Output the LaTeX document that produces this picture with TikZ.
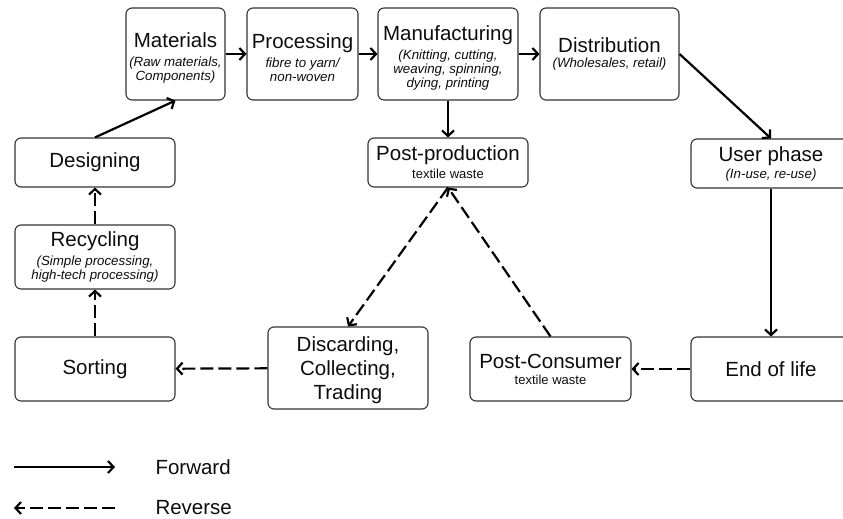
\documentclass[tikz,border=0pt]{standalone}
\usepackage{fontspec}
\setmainfont{Liberation Sans}
\usetikzlibrary{arrows.meta}
\newcommand{\subtxt}{\fontsize{13.3}{14}\selectfont\itshape}
\newcommand{\wastetxt}{\fontsize{13}{14}\selectfont}
\newcommand{\tstrut}{\rule{0pt}{23pt}}

\begin{document}
\begin{tikzpicture}[x=1pt,y=-1pt,
  box/.style={draw=black!80, line width=1.1pt, rounded corners=6pt, align=center,
    inner sep=0pt, text=black!95, font=\fontsize{20.5}{14}\selectfont},
  fwd/.style={line width=2.2pt, -{Straight Barb[length=5.5pt,width=12pt]}},
  rev/.style={fwd, dash pattern=on 13pt off 5pt}]
\useasboundingbox (0,0) rectangle (843,519);
\node[box, minimum width=99, minimum height=92] (mat) at (175.5,54) {\tstrut Materials\\[5pt]{\subtxt (Raw materials,}\\{\subtxt Components)}};
\node[box, minimum width=111, minimum height=92] (pro) at (302.5,54) {\tstrut Processing\\[5pt]{\subtxt fibre to yarn/}\\{\subtxt non-woven}};
\node[box, minimum width=140, minimum height=92] (man) at (448,54) {\tstrut Manufacturing\\[5pt]{\subtxt (Knitting, cutting,}\\{\subtxt weaving, spinning,}\\{\subtxt dying, printing}};
\node[box, minimum width=139, minimum height=92] (dis) at (609.5,54) {Distribution\\[1pt]{\subtxt (Wholesales, retail)}};
\node[box, minimum width=160, minimum height=49] (des) at (95,162.5) {Designing};
\node[box, minimum width=160, minimum height=64] (rec) at (95,257) {Recycling\\[5pt]{\subtxt (Simple processing,}\\{\subtxt high-tech processing)}};
\node[box, minimum width=160, minimum height=64] (sor) at (95,369) {Sorting};
\node[box, minimum width=160, minimum height=49] (pp) at (448,162.5) {Post-production\\[4pt]{\wastetxt textile waste}};
\node[box, minimum width=160, minimum height=49] (usr) at (771,163.5) {User phase\\[3pt]{\subtxt (In-use, re-use)}};
\node[box, minimum width=160, minimum height=82, font=\fontsize{20.5}{24}\selectfont] (dcl) at (348,368) {\rule{0pt}{19pt}Discarding,\\Collecting,\\Trading};
\node[box, minimum width=161, minimum height=64] (pc) at (550.5,369) {Post-Consumer\\[2pt]{\wastetxt textile waste}};
\node[box, minimum width=160, minimum height=64] (eol) at (771,369) {End of life};

\draw[fwd] (des.north) -- (mat.south);
\draw[fwd] (mat) -- (pro);
\draw[fwd] (pro) -- (man);
\draw[fwd] (man) -- (dis);
\draw[fwd] (dis.east) -- (usr.north);
\draw[fwd] (man) -- (pp);
\draw[fwd] (usr) -- (eol);
\draw[rev] (eol) -- (pc);
\draw[rev] (pc.north) -- (pp.south);
\draw[rev] (pp.south) -- (dcl.north);
\draw[rev] (dcl) -- (sor);
\draw[rev] (sor) -- (rec);
\draw[rev] (rec) -- (des);

\coordinate (f1) at (14,467);
\coordinate (f2) at (115,467);
\coordinate (r1) at (115,508);
\coordinate (r2) at (14,508);
\draw[fwd] (f1) -- (f2);
\draw[rev] (r1) -- (r2);
\node[anchor=west, font=\fontsize{20.5}{14}\selectfont, text=black!95] (lf) at (152,467) {Forward};
\node[anchor=west, font=\fontsize{20.5}{14}\selectfont, text=black!95] (lr) at (152,508) {Reverse};
\end{tikzpicture}
\end{document}
